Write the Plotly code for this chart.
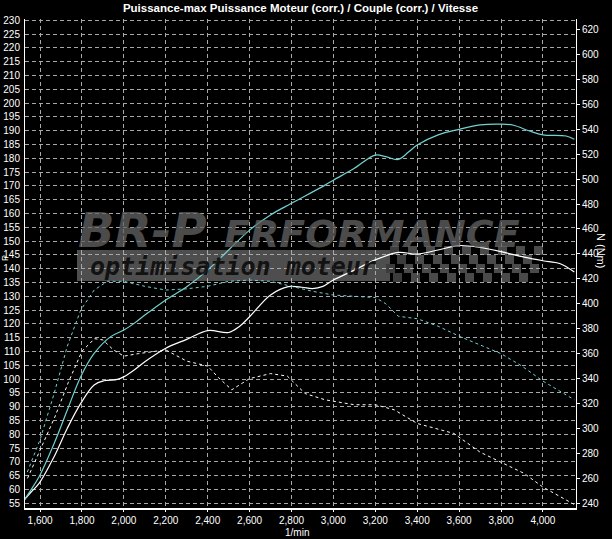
import plotly.graph_objects as go

# ---------------- data ----------------
rpm_power_tuned = [1524, 1556, 1595, 1667, 1730, 1794, 1858, 1937, 2000, 2049, 2100, 2200, 2300,
                   2400, 2500, 2600, 2700, 2800, 2960, 3000, 3100, 3200, 3250, 3310, 3360, 3400,
                   3500, 3600, 3700, 3800, 3860, 3933, 4000, 4111, 4150]
power_tuned = [56.2, 59.8, 64.6, 76.7, 88.8, 100.9, 109.3, 115.4, 117.8, 120.2, 123.2, 128.7, 133.5,
               139.5, 146.8, 154.0, 159.5, 163.7, 170.3, 172.1, 176.4, 181.2, 180.6, 179.6, 182.4, 184.8,
               188.5, 190.5, 192.1, 192.4, 192.0, 190.0, 188.5, 188.1, 186.9]

rpm_power_stock = [1524, 1556, 1595, 1667, 1730, 1794, 1858, 1905, 1969, 2001, 2049, 2100, 2200, 2300,
                   2400, 2500, 2550, 2600, 2700, 2785, 2850, 2900, 2950, 3000, 3100, 3200, 3310, 3400,
                   3500, 3600, 3700, 3800, 3911, 4000, 4080, 4150]
power_stock = [56.2, 59.0, 62.2, 71.9, 82.2, 91.2, 97.9, 99.4, 99.9, 100.9, 103.3, 106.3, 111.2, 114.4,
               117.6, 116.9, 119.0, 122.6, 130.5, 133.5, 133.3, 132.8, 133.6, 135.9, 139.5, 143.2, 145.9, 145.3,
               146.8, 148.4, 147.7, 146.2, 144.2, 142.9, 141.9, 138.8]

rpm_torque_tuned = [1539, 1600, 1667, 1730, 1794, 1858, 1921, 2000, 2100, 2200, 2300, 2400, 2500, 2600,
                    2700, 2800, 2900, 3000, 3100, 3200, 3250, 3310, 3400, 3500, 3600, 3700, 3800, 3900,
                    4000, 4150]
torque_tuned = [265, 291, 328, 366, 395, 411, 418, 418, 414, 411, 412, 414, 418, 419,
                418, 414, 410, 407, 406, 405, 400, 390, 388, 382, 374, 367, 360, 350,
                338, 323]

rpm_torque_stock = [1540, 1600, 1670, 1735, 1800, 1860, 1900, 1950, 2000, 2069, 2200, 2300, 2400, 2450,
                    2515, 2600, 2700, 2780, 2865, 2960, 3000, 3100, 3200, 3290, 3400, 3510, 3575, 3700,
                    3800, 3910, 4000, 4110, 4150]
torque_stock = [260, 282, 309, 337, 362, 372, 371, 363, 358, 360, 363, 354, 350, 341,
                331, 340, 344, 342, 328, 323, 322, 319, 319, 315, 304, 299, 296, 281,
                273, 264, 253, 243, 239]

x_ticks = list(range(1600, 4001, 200))
left_ticks = list(range(55, 231, 5))
right_ticks = list(range(240, 621, 20))

TITLE = "Puissance-max Puissance Moteur (corr.) / Couple (corr.) / Vitesse"
CYAN = "#73d2d2"
WHITE = "#ffffff"
NARROW = "Liberation Sans Narrow, Arial Narrow, Liberation Sans, Arial, sans-serif"

# ---------------- figure ----------------
W, H = 612, 539
L, R, T, B = 25, 36, 19, 31
PW, PH = W - L - R, H - T - B


def px(xp):
    return (xp - L) / PW


def py(yp):
    return (H - B - yp) / PH


fig = go.Figure()
fig.add_trace(go.Scatter(x=rpm_torque_stock, y=torque_stock, yaxis="y2", mode="lines",
                         line=dict(color=WHITE, width=1, dash="3px,3px"), name="Couple série"))
fig.add_trace(go.Scatter(x=rpm_torque_tuned, y=torque_tuned, yaxis="y2", mode="lines",
                         line=dict(color=CYAN, width=1, dash="3px,3px"), name="Couple optimisé"))
fig.add_trace(go.Scatter(x=rpm_power_stock, y=power_stock, mode="lines",
                         line=dict(color=WHITE, width=1.2, shape="spline"), name="Puissance série"))
fig.add_trace(go.Scatter(x=rpm_power_tuned, y=power_tuned, mode="lines",
                         line=dict(color=CYAN, width=1.2, shape="spline"), name="Puissance optimisée"))

# ---------------- watermark logo ----------------
shapes = []
shapes.append(dict(type="rect", xref="paper", yref="paper", layer="below",
                   x0=px(77), x1=px(390), y0=py(281), y1=py(250),
                   fillcolor="#4e4e4e", line=dict(width=0)))
sq = 9
cols = 17
rows = 4
x_start, y_start = 382, 246
for r_ in range(rows):
    for c_ in range(cols):
        if (r_ + c_) % 2 == 0:
            x0 = x_start + c_ * sq + (rows - r_) * 2
            y0 = y_start + r_ * sq
            col = "#4a4a4a" if c_ > 1 else "#3c3c3c"
            shapes.append(dict(type="rect", xref="paper", yref="paper", layer="below",
                               x0=px(x0), x1=px(x0 + sq), y0=py(y0 + sq), y1=py(y0),
                               fillcolor=col, line=dict(width=0)))

annotations = [
    dict(text="<b><i>BR-P</i></b>", xref="paper", yref="paper", x=px(76), y=py(230),
         xanchor="left", yanchor="middle", showarrow=False,
         font=dict(family="DejaVu Sans", size=48, color="rgba(100,100,100,0.75)")),
    dict(text="<b><i>ERFORMANCE</i></b>", xref="paper", yref="paper", x=px(222), y=py(234),
         xanchor="left", yanchor="middle", showarrow=False,
         font=dict(family="DejaVu Sans", size=38, color="rgba(100,100,100,0.75)")),
    dict(text="<b><i>optimisation moteur</i></b>", xref="paper", yref="paper", x=px(88), y=py(266),
         xanchor="left", yanchor="middle", showarrow=False,
         font=dict(family="DejaVu Sans Mono", size=25, color="rgba(10,10,10,0.9)")),
    dict(text="1/min", xref="paper", yref="paper", x=px(297), y=py(532),
         xanchor="center", yanchor="middle", showarrow=False,
         font=dict(family=NARROW, size=10, color="white")),
    dict(text="P", xref="paper", yref="paper", x=px(5), y=py(258), textangle=-90,
         xanchor="center", yanchor="middle", showarrow=False,
         font=dict(family=NARROW, size=9, color="white")),
    dict(text="N (Nm)", xref="paper", yref="paper", x=px(601), y=py(250), textangle=90,
         xanchor="center", yanchor="middle", showarrow=False,
         font=dict(family=NARROW, size=11, color="white")),
]

fig.update_layout(
    width=W, height=H,
    margin=dict(l=L, r=R, t=T, b=B, pad=0),
    paper_bgcolor="black", plot_bgcolor="black",
    showlegend=False,
    title=dict(text=f"<b>{TITLE}</b>", x=0.5, xref="paper", xanchor="center",
               y=1 - 8 / H, yref="container", yanchor="middle",
               font=dict(family=NARROW, size=11.5, color="white")),
    xaxis=dict(range=[1528, 4158], tickvals=x_ticks, tickformat=",d", automargin=False,
               showgrid=True, gridcolor="#a8a8a8", griddash="4px,3px", gridwidth=1,
               showline=True, linecolor="white", linewidth=2, zeroline=False,
               ticks="outside", ticklen=2, tickcolor="white",
               tickfont=dict(family=NARROW, size=10, color="white")),
    yaxis=dict(range=[53.3, 230.5], tickvals=left_ticks, automargin=False,
               showgrid=True, gridcolor="#a8a8a8", griddash="4px,3px", gridwidth=1,
               showline=True, linecolor="white", linewidth=1, zeroline=False,
               ticks="", tickfont=dict(family=NARROW, size=10, color="white"),
               ticklabelstandoff=2),
    yaxis2=dict(range=[236.2, 628.4], tickvals=right_ticks, overlaying="y", side="right",
                automargin=False,
                showgrid=False, showline=True, linecolor="white", linewidth=1, zeroline=False,
                ticks="outside", ticklen=3, tickcolor="white",
                tickfont=dict(family=NARROW, size=10, color="white")),
    shapes=shapes,
    annotations=annotations,
)

fig.write_html(
    "out.html",
    config={"displayModeBar": False},
    post_script="document.body.style.margin='0';document.body.style.background='black';"
                "document.body.style.overflow='hidden';",
)
